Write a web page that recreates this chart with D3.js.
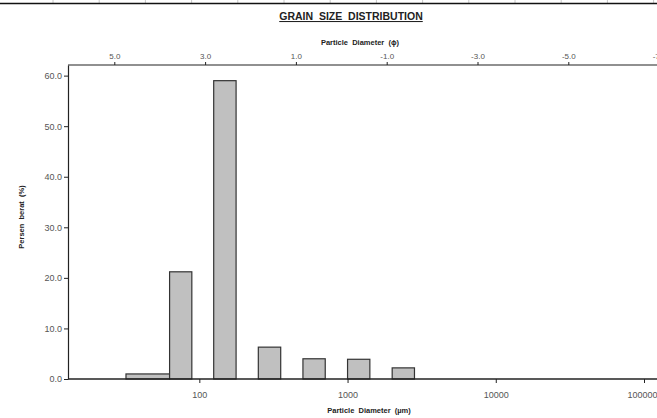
<!DOCTYPE html>
<html>
<head>
<meta charset="utf-8">
<script src="https://cdn.jsdelivr.net/npm/d3@7/dist/d3.min.js"></script>
<style>
  html, body { margin: 0; padding: 0; background: #fff; }
  svg { display: block; font-family: 'Liberation Sans', Arial, sans-serif; }
</style>
</head>
<body>
<svg id="grain-graph"></svg>
<script>
// DATA (sieve class bounds in micrometre, weight percent)
const sizeFrom = [32, 63, 125, 250, 500, 1000, 2000]
const sizeTo = [63, 89, 177, 354, 707, 1414, 2828]
const percent = [1.0, 21.2, 59.0, 6.3, 4.0, 3.9, 2.2]

const yTicks = [0, 10, 20, 30, 40, 50, 60]
const xTicks = [100, 1000, 10000, 100000]
const phiTicks = [5, 3, 1, -1, -3, -5, -7]

let svgWidth = 657
let svgHeight = 418
let plot = {left: 68, right: 657, top: 65, bottom: 379}

let chartContainer = d3.select('#grain-graph')
    .attr('width', svgWidth)
    .attr('height', svgHeight)

// SPREADSHEET GRID ABOVE THE CHART
let gridX = d3.range(53, svgWidth, 46.2)
chartContainer.selectAll('.cell-line')
    .data(gridX)
    .enter()
    .append('line')
    .attr('x1', d => d).attr('x2', d => d)
    .attr('y1', 0).attr('y2', 3)
    .attr('stroke', '#c8c8c8')
    .attr('stroke-width', 1)
chartContainer.append('line')
    .attr('x1', 0).attr('x2', svgWidth)
    .attr('y1', 3.5).attr('y2', 3.5)
    .attr('stroke', '#111')
    .attr('stroke-width', 1.5)

// SCALES
let x = d3.scaleLog().domain([13, 100000]).range([plot.left, 644])
let y = d3.scaleLinear().domain([0, 62.1]).range([plot.bottom, plot.top])
let phi = d3.scaleLinear().domain([5, -5]).range([114.3, 568.3])

let bars = sizeFrom.map((d, i) => ({from: d, to: sizeTo[i], value: percent[i]}))

// BARS
chartContainer.selectAll('.bar')
    .data(bars)
    .enter()
    .append('rect')
    .classed('bar', true)
    .attr('x', d => x(d.from))
    .attr('width', d => x(d.to) - x(d.from))
    .attr('y', d => y(d.value))
    .attr('height', d => y(0) - y(d.value))
    .attr('fill', '#c0c0c0')
    .attr('stroke', '#333')
    .attr('stroke-width', 1.2)

// PLOT FRAME (top and bottom)
chartContainer.append('line')
    .attr('x1', plot.left).attr('x2', plot.right)
    .attr('y1', plot.top).attr('y2', plot.top)
    .attr('stroke', '#222').attr('stroke-width', 1.2)
chartContainer.append('line')
    .attr('x1', plot.left).attr('x2', plot.right)
    .attr('y1', plot.bottom).attr('y2', plot.bottom)
    .attr('stroke', '#222').attr('stroke-width', 1.5)

// Y-AXIS TICKS
let yAxis = chartContainer.append('g')
    .attr('transform', `translate(${plot.left},0)`)
    .call(d3.axisLeft(y).tickValues(yTicks).tickSize(4).tickSizeOuter(0).tickPadding(2)
        .tickFormat(d => d.toFixed(1)))
yAxis.select('.domain').attr('stroke', '#222').attr('stroke-width', 1.2)
yAxis.selectAll('.tick line').attr('stroke', '#222')
yAxis.selectAll('text').attr('fill', '#555').attr('font-size', 9)

// X-AXIS TICKS (bottom, micrometre)
let xAxis = chartContainer.append('g')
    .attr('transform', `translate(0,${plot.bottom})`)
    .call(d3.axisBottom(x).tickValues(xTicks).tickSize(4).tickPadding(9)
        .tickFormat(d3.format('d')))
xAxis.select('.domain').remove()
xAxis.selectAll('.tick line').attr('stroke', '#222')
xAxis.selectAll('text').attr('fill', '#555').attr('font-size', 9)
// last label sits at the window edge, nudge it in
xAxis.selectAll('.tick text').filter(d => d === 100000).attr('dx', -2)

// PHI AXIS (top)
let phiAxis = chartContainer.append('g')
    .attr('transform', `translate(0,${plot.top})`)
    .call(d3.axisTop(phi).tickValues(phiTicks).tickSize(3).tickPadding(3)
        .tickFormat(d => d.toFixed(1)))
phiAxis.select('.domain').remove()
phiAxis.selectAll('.tick line').attr('stroke', '#222')
phiAxis.selectAll('text').attr('fill', '#555').attr('font-size', 8)

// GRAPH TITLE
chartContainer.append('text')
    .attr('x', 351)
    .attr('y', 20)
    .attr('text-anchor', 'middle')
    .attr('fill', '#222')
    .attr('font-size', 10.5)
    .attr('font-weight', 'bold')
    .attr('text-decoration', 'underline')
    .attr('xml:space', 'preserve')
    .text('GRAIN  SIZE  DISTRIBUTION')

// AXIS LABELS
chartContainer.append('text')
    .attr('x', 360)
    .attr('y', 45)
    .attr('text-anchor', 'middle')
    .attr('fill', '#222')
    .attr('font-size', 7.5)
    .attr('font-weight', 'bold')
    .attr('xml:space', 'preserve')
    .text('Particle  Diameter  (\u0278)')

chartContainer.append('text')
    .attr('x', 369)
    .attr('y', 413)
    .attr('text-anchor', 'middle')
    .attr('fill', '#222')
    .attr('font-size', 7.5)
    .attr('font-weight', 'bold')
    .attr('xml:space', 'preserve')
    .text('Particle  Diameter  (\u00b5m)')

chartContainer.append('text')
    .attr('transform', 'translate(24,217) rotate(-90)')
    .attr('text-anchor', 'middle')
    .attr('fill', '#222')
    .attr('font-size', 7.5)
    .attr('font-weight', 'bold')
    .attr('xml:space', 'preserve')
    .text('Persen  berat  (%)')
</script>
</body>
</html>
